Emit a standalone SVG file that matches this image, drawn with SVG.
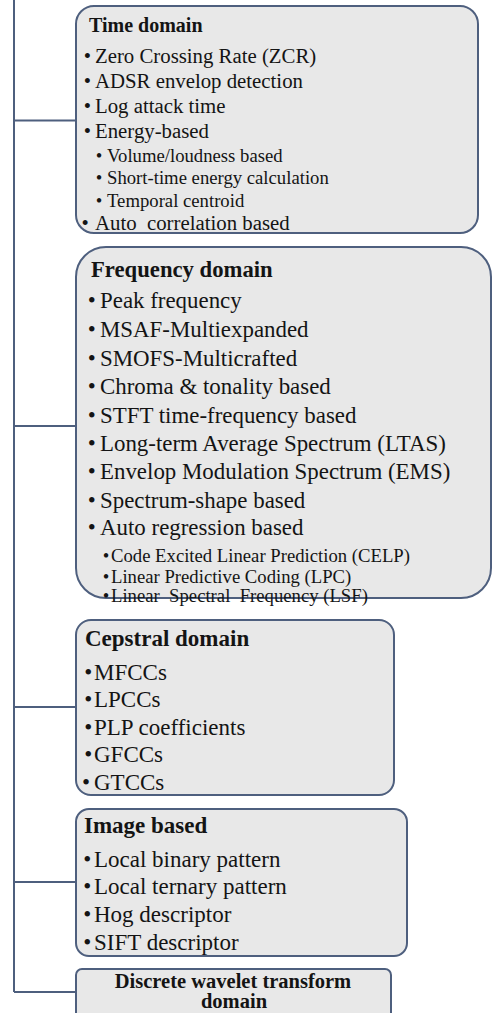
<svg xmlns="http://www.w3.org/2000/svg" width="493" height="1013" viewBox="0 0 493 1013">
<style>
.box{fill:#e8e8e8;stroke:#4e5f7e;stroke-width:2}
.conn{fill:none;stroke:#4e5f7e;stroke-width:2}
text{font-family:"Liberation Serif","Times New Roman",serif;fill:#141414}
.t{font-weight:bold}
.tt{font-size:20px}
.ft{font-size:22.7px}
.m1{font-size:20.8px}
.s1{font-size:18.7px}
.m2{font-size:22.9px}
.s2{font-size:18.7px}
.m3{font-size:23px}
.dw{font-size:20.5px;text-anchor:middle}
</style>
<rect x="0" y="0" width="493" height="1013" fill="#ffffff"/>
<g id="connectors">
<path class="conn" d="M14,-2 V992 M14,120.5 H76 M14,426 H76 M14,707 H76 M14,882 H76 M14,992 H76"/>
</g>
<g id="time-domain">
<rect class="box" x="76" y="6" width="402" height="227" rx="18" ry="18"/>
<text class="t tt" x="89" y="32">Time domain</text>
<text class="m1" y="63"><tspan x="83.7">•</tspan><tspan x="95">Zero Crossing Rate (ZCR)</tspan></text>
<text class="m1" y="88"><tspan x="83.7">•</tspan><tspan x="95">ADSR envelop detection</tspan></text>
<text class="m1" y="113"><tspan x="83.7">•</tspan><tspan x="95">Log attack time</tspan></text>
<text class="m1" y="138"><tspan x="83.7">•</tspan><tspan x="95">Energy-based</tspan></text>
<text class="s1" y="162"><tspan x="95.7">•</tspan><tspan x="107">Volume/loudness based</tspan></text>
<text class="s1" y="184"><tspan x="95.7">•</tspan><tspan x="107">Short-time energy calculation</tspan></text>
<text class="s1" y="207"><tspan x="95.7">•</tspan><tspan x="107">Temporal centroid</tspan></text>
<text class="m1" y="230"><tspan x="81.5">•</tspan><tspan x="95">Auto&#160; correlation based</tspan></text>
</g>
<g id="frequency-domain">
<rect class="box" x="76" y="247" width="415" height="351" rx="30" ry="30"/>
<text class="t ft" x="91" y="277">Frequency domain</text>
<text class="m2" y="308"><tspan x="87.7">•</tspan><tspan x="100">Peak frequency</tspan></text>
<text class="m2" y="337"><tspan x="87.7">•</tspan><tspan x="100">MSAF-Multiexpanded</tspan></text>
<text class="m2" y="366"><tspan x="87.7">•</tspan><tspan x="100">SMOFS-Multicrafted</tspan></text>
<text class="m2" y="394"><tspan x="87.7">•</tspan><tspan x="100">Chroma &amp; tonality based</tspan></text>
<text class="m2" y="423"><tspan x="87.7">•</tspan><tspan x="100">STFT time-frequency based</tspan></text>
<text class="m2" y="451"><tspan x="87.7">•</tspan><tspan x="100">Long-term Average Spectrum (LTAS)</tspan></text>
<text class="m2" y="479"><tspan x="87.7">•</tspan><tspan x="100">Envelop Modulation Spectrum (EMS)</tspan></text>
<text class="m2" y="508"><tspan x="87.7">•</tspan><tspan x="100">Spectrum-shape based</tspan></text>
<text class="m2" y="535"><tspan x="87.7">•</tspan><tspan x="100">Auto regression based</tspan></text>
<text class="s2" y="562"><tspan x="102.7">•</tspan><tspan x="111">Code Excited Linear Prediction (CELP)</tspan></text>
<text class="s2" y="583"><tspan x="102.7">•</tspan><tspan x="111">Linear Predictive Coding (LPC)</tspan></text>
<text class="s2" y="602"><tspan x="102.7">•</tspan><tspan x="111">Linear&#160; Spectral&#160; Frequency (LSF)</tspan></text>
</g>
<g id="cepstral-domain">
<rect class="box" x="76" y="620" width="318" height="175" rx="15" ry="15"/>
<text class="t m3" x="85" y="646">Cepstral domain</text>
<text class="m3" y="680"><tspan x="84.3">•</tspan><tspan x="94">MFCCs</tspan></text>
<text class="m3" y="707"><tspan x="84.3">•</tspan><tspan x="94">LPCCs</tspan></text>
<text class="m3" y="735"><tspan x="84.3">•</tspan><tspan x="94">PLP coefficients</tspan></text>
<text class="m3" y="762"><tspan x="84.3">•</tspan><tspan x="94">GFCCs</tspan></text>
<text class="m3" y="790"><tspan x="82">•</tspan><tspan x="94">GTCCs</tspan></text>
</g>
<g id="image-based">
<rect class="box" x="76" y="809" width="331" height="147" rx="13" ry="13"/>
<text class="t m3" x="84" y="833">Image based</text>
<text class="m3" y="867"><tspan x="83.3">•</tspan><tspan x="94">Local binary pattern</tspan></text>
<text class="m3" y="894"><tspan x="83.3">•</tspan><tspan x="94">Local ternary pattern</tspan></text>
<text class="m3" y="922"><tspan x="83.3">•</tspan><tspan x="94">Hog descriptor</tspan></text>
<text class="m3" y="950"><tspan x="83.3">•</tspan><tspan x="94">SIFT descriptor</tspan></text>
</g>
<g id="dwt-domain">
<rect class="box" x="76" y="969" width="315" height="70" rx="6" ry="6"/>
<text class="t dw" x="233" y="988">Discrete wavelet transform</text>
<text class="t dw" x="234" y="1008">domain</text>
</g>
</svg>
